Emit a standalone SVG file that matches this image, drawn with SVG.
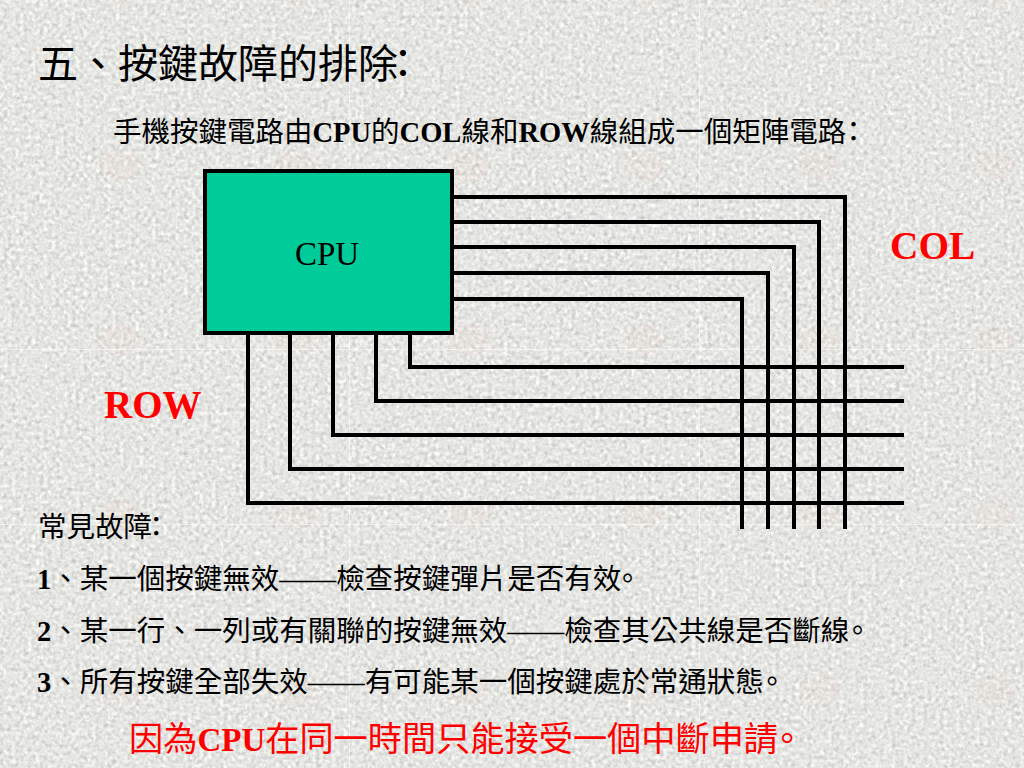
<svg xmlns="http://www.w3.org/2000/svg" width="1024" height="768" viewBox="0 0 1024 768">
<style>
text{font-family:"Liberation Serif","Noto Sans CJK TC",serif;fill:#000}
.b{font-weight:700}
.t{font-size:28.500px}
.r{fill:#f00}
.r tspan{fill:#f00}
.w{fill:none;stroke:#000;stroke-width:4;stroke-linejoin:miter}
.s{stroke:#fff;stroke-opacity:.55;stroke-width:1;fill:none}
</style>
<defs>
<filter id="n" x="0" y="0" width="100%" height="100%" color-interpolation-filters="sRGB">
<feTurbulence type="fractalNoise" baseFrequency=".25" numOctaves="4" seed="7"/>
<feColorMatrix type="matrix" values=".6 .6 0 0 -.02 .6 .6 0 0 -.02 .6 .6 0 0 -.02 0 0 0 0 1"/>
<feComponentTransfer><feFuncR type="linear" slope=".36" intercept=".69"/><feFuncG type="linear" slope=".36" intercept=".69"/><feFuncB type="linear" slope=".36" intercept=".68"/></feComponentTransfer>
</filter>
<pattern id="p" width="175" height="175" patternUnits="userSpaceOnUse" patternTransform="translate(32.5 77.5)">
<ellipse cx="87.5" cy="87.5" rx="20" ry="16" fill="#e8b090" fill-opacity=".06"/>
</pattern>
</defs>
<g id="background">
<rect width="1024" height="768" fill="#e4e4e2"/>
<rect width="1024" height="768" filter="url(#n)"/>
<rect width="1024" height="768" fill="url(#p)"/>
<path class="s" d="M349.500 0V768M699.500 0V768M0 349.500H1024M0 524.500H1024"/>
</g>
<g id="connectors">
<path class="w" d="M452 197H845V529M452 222H819V529M452 247H794V529M452 273H768V529M452 299H742V529"/>
<path class="w" d="M410 333V367H904M376 333V401H904M333 333V435H904M290 333V469H904M248 333V503H904"/>
</g>
<g id="cpu">
<rect x="205" y="171" width="247" height="162" fill="#00cc99" stroke="#000" stroke-width="4"/>
<text x="295" y="265" font-size="33">CPU</text>
</g>
<g id="col-label"><text class="b r" x="890" y="259" font-size="39.300">COL</text></g>
<g id="row-label"><text class="b r" x="104" y="418" font-size="39">ROW</text></g>
<g id="heading">
<text x="38" y="78" font-size="40" dx="0 0 0 0 0 0 0 0 0 -15">五、按鍵故障的排除：</text>
<text class="t" x="113" y="142">手機按鍵電路由<tspan class="b">CPU</tspan>的<tspan class="b">COL</tspan>線和<tspan class="b">ROW</tspan>線組成一個矩陣電<tspan dx="0 -7">路：</tspan></text>
</g>
<g id="faults">
<text class="t" x="38" y="537" dx="0 0 0 0 -10">常見故障：</text>
<text class="t" x="37" y="589"><tspan class="b">1</tspan>、某一個按鍵無效——檢查按鍵彈片是否有<tspan dx="0 -8">效。</tspan></text>
<text class="t" x="37" y="641"><tspan class="b">2</tspan>、某一行、一列或有關聯的按鍵無效——檢查其公共線是否斷<tspan dx="0 -6">線。</tspan></text>
<text class="t" x="37" y="692"><tspan class="b">3</tspan>、所有按鍵全部失效——有可能某一個按鍵處於常通狀<tspan dx="0 -6">態。</tspan></text>
</g>
<g id="note">
<text class="r" x="129" y="751" font-size="34.200">因為<tspan class="b" font-size="33">CPU</tspan>在同一時間只能接受一個中斷申<tspan dx="0 -8">請。</tspan></text>
</g>
</svg>
